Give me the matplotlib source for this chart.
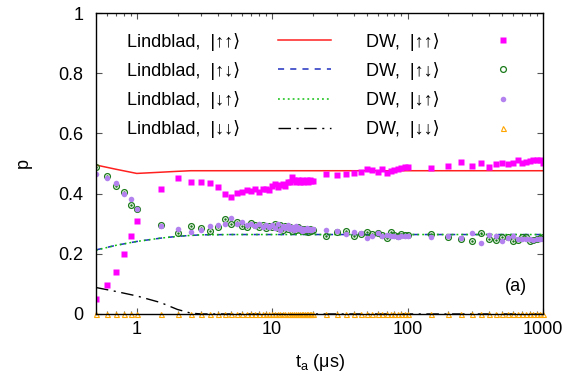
import matplotlib
matplotlib.use('Agg')
import matplotlib.pyplot as plt
from matplotlib.ticker import FixedLocator, FixedFormatter, LogLocator, NullFormatter

plt.rcParams['font.family'] = ['Liberation Sans', 'DejaVu Sans']
plt.rcParams['mathtext.fontset'] = 'custom'
plt.rcParams['mathtext.rm'] = 'Liberation Sans'
plt.rcParams['mathtext.it'] = 'Liberation Sans:italic'

# Lindblad curves
t_lb = [0.5, 0.7, 1.0, 1.5, 2.0, 2.5, 3.0, 5.0, 10, 100, 1000]
lb_uu = [0.495, 0.481, 0.467, 0.471, 0.474, 0.476, 0.476, 0.476, 0.476, 0.476, 0.476]
lb_ud = [0.213, 0.228, 0.241, 0.252, 0.258, 0.261, 0.263, 0.264, 0.264, 0.264, 0.264]
lb_du = [0.212, 0.228, 0.241, 0.252, 0.258, 0.261, 0.263, 0.264, 0.264, 0.264, 0.264]
lb_dd = [0.088, 0.075, 0.060, 0.038, 0.015, 0.003, 0.0, 0.0, 0.0, 0.0, 0.0]

# DW simulation points
t_dw = [0.5, 0.6, 0.7, 0.8, 0.9,
        1.0, 1.5, 2.0, 2.5, 3.0, 3.5, 4.0, 4.5, 5.0, 5.5, 6.0, 6.5, 7.0, 7.5,
        8.0, 8.5, 9.0, 9.5, 10.0, 10.5, 11.0, 11.5, 12.0, 12.5, 13.0, 13.5,
        14.0, 14.5, 15.0, 15.5, 16.0, 16.5, 17.0, 17.5, 18.0, 18.5, 19.0, 19.5, 20.0,
        25, 30, 35, 40, 45, 50, 55, 60, 65, 70, 75, 80, 85, 90, 95, 100,
        150, 200, 250, 300, 350, 400, 450, 500, 550, 600, 650, 700, 750, 800,
        850, 900, 950, 1000]
dw_uu = [0.050, 0.097, 0.141, 0.199, 0.259,
         0.310, 0.415, 0.453, 0.440, 0.440, 0.436, 0.423, 0.398, 0.390, 0.403,
         0.406, 0.412, 0.410, 0.415, 0.404, 0.414, 0.416, 0.411, 0.425, 0.432,
         0.421, 0.428, 0.433, 0.425, 0.437, 0.440, 0.454, 0.445, 0.437, 0.446,
         0.440, 0.445, 0.438, 0.443, 0.446, 0.440, 0.444, 0.441, 0.443,
         0.465, 0.462, 0.465, 0.468, 0.473, 0.482, 0.480, 0.471, 0.482, 0.470,
         0.474, 0.478, 0.482, 0.485, 0.487, 0.487,
         0.486, 0.492, 0.506, 0.493, 0.503, 0.489, 0.497, 0.503, 0.499, 0.503,
         0.512, 0.503, 0.505, 0.509, 0.510, 0.512, 0.511, 0.501]
dw_ud = [0.489, 0.460, 0.426, 0.404, 0.362,
         0.348, 0.297, 0.268, 0.291, 0.285, 0.277, 0.288, 0.315, 0.299, 0.307,
         0.292, 0.290, 0.303, 0.295, 0.288, 0.297, 0.285, 0.293, 0.290, 0.300,
         0.285, 0.295, 0.280, 0.291, 0.284, 0.289, 0.276, 0.286, 0.280, 0.288,
         0.278, 0.283, 0.275, 0.284, 0.279, 0.272, 0.281, 0.276, 0.279,
         0.260, 0.272, 0.277, 0.259, 0.266, 0.274, 0.265, 0.268, 0.262, 0.253,
         0.271, 0.262, 0.260, 0.266, 0.261, 0.262,
         0.266, 0.257, 0.248, 0.244, 0.268, 0.249, 0.246, 0.257, 0.255, 0.244,
         0.246, 0.255, 0.257, 0.243, 0.246, 0.248, 0.251, 0.255]
dw_du = [0.465, 0.451, 0.436, 0.400, 0.382,
         0.348, 0.291, 0.282, 0.273, 0.279, 0.292, 0.295, 0.300, 0.318, 0.300,
         0.305, 0.296, 0.300, 0.292, 0.298, 0.290, 0.295, 0.288, 0.297, 0.285,
         0.300, 0.280, 0.292, 0.286, 0.295, 0.282, 0.288, 0.279, 0.291, 0.283,
         0.286, 0.276, 0.284, 0.280, 0.285, 0.278, 0.282, 0.279, 0.281,
         0.279, 0.275, 0.265, 0.274, 0.268, 0.253, 0.259, 0.268, 0.259, 0.262,
         0.258, 0.260, 0.257, 0.259, 0.258, 0.259,
         0.255, 0.259, 0.251, 0.268, 0.235, 0.261, 0.258, 0.244, 0.251, 0.259,
         0.248, 0.248, 0.248, 0.248, 0.246, 0.248, 0.249, 0.250]
dw_dd = [0.0, 0.0, 0.0, 0.0, 0.0, 0.0, 0.0, 0.0, 0.0, 0.0, 0.0, 0.0, 0.0,
         0.0, 0.0, 0.0, 0.0, 0.0, 0.0, 0.0, 0.0, 0.0, 0.0, 0.0, 0.0, 0.0,
         0.0, 0.0, 0.0, 0.0, 0.0, 0.0, 0.0, 0.0, 0.0, 0.0, 0.0, 0.0, 0.0,
         0.0, 0.0, 0.0, 0.0, 0.0, 0.0, 0.0, 0.0, 0.0, 0.0, 0.0, 0.0, 0.0,
         0.0, 0.0, 0.0, 0.0, 0.0, 0.0, 0.0, 0.0, 0.0, 0.0, 0.0, 0.0, 0.0,
         0.0, 0.0, 0.0, 0.0, 0.0, 0.0, 0.0, 0.0, 0.0, 0.0, 0.0, 0.0, 0.0]

kets = ['|↑↑⟩', '|↑↓⟩', '|↓↑⟩', '|↓↓⟩']
x_ticks = [1, 10, 100, 1000]
x_ticklabels = ['1', '10', '100', '1000']
y_ticks = [0, 0.2, 0.4, 0.6, 0.8, 1.0]
y_ticklabels = ['0', '0.2', '0.4', '0.6', '0.8', '1']

fig = plt.figure(figsize=(5.85, 3.75), dpi=100)
ax = fig.add_axes([96 / 585, 61 / 375, 447 / 585, 301 / 375])

l1, = ax.plot(t_lb, lb_uu, color='#ff2020', lw=1.1)
l2, = ax.plot(t_lb, lb_ud, color='#2030c0', lw=1.1, dashes=(4, 4))
l3, = ax.plot(t_lb, lb_du, color='#10c010', lw=1.1, dashes=(1.2, 2))
l4, = ax.plot(t_lb, lb_dd, color='black', lw=1.0, dashes=(9, 4, 1.5, 4))

m1, = ax.plot(t_dw, dw_uu, 's', color='#ff00ff', ms=4.3, mec='none')
m2, = ax.plot(t_dw, dw_ud, 'o', mfc='none', mec='#1a7a1a', ms=4.2, mew=0.9)
ax.plot(t_dw, dw_ud, '.', color='#1a7a1a', ms=1.6)
m3, = ax.plot(t_dw, dw_du, 'o', color='#b482ee', ms=4.0, mec='none')
m4, = ax.plot(t_dw, dw_dd, '^', mfc='none', mec='#ffa500', ms=3.6, mew=0.8,
              clip_on=False)

ax.set_xscale('log')
ax.set_xlim(0.5, 1000)
ax.set_ylim(0, 1)
ax.xaxis.set_major_locator(FixedLocator(x_ticks))
ax.xaxis.set_major_formatter(FixedFormatter(x_ticklabels))
ax.xaxis.set_minor_locator(LogLocator(subs=[2, 3, 4, 5, 6, 7, 8, 9]))
ax.xaxis.set_minor_formatter(NullFormatter())
ax.set_yticks(y_ticks)
ax.set_yticklabels(y_ticklabels)
ax.tick_params(which='both', direction='in', top=True, right=True,
               labelsize=13, width=0.8, color='#555555')
ax.tick_params(which='major', length=4.5)
ax.tick_params(which='minor', length=2.5)
ax.tick_params(axis='x', pad=5)
ax.tick_params(axis='y', pad=9)
for s in ax.spines.values():
    s.set_linewidth(1.0)

ax.set_xlabel(r'$\mathrm{t_a}$ (μs)', fontsize=13, labelpad=10)
ax.set_ylabel('p', fontsize=13, labelpad=19)
ax.text(0.965, 0.09, '(a)', transform=ax.transAxes, fontsize=13,
        ha='right', va='center')

leg1 = ax.legend([l1, l2, l3, l4], ['Lindblad,  ' + k for k in kets],
                 loc='upper left', bbox_to_anchor=(0.07, 0.935),
                 frameon=False, markerfirst=False, fontsize=13,
                 handlelength=2.9, handletextpad=2.1, labelspacing=0.62,
                 borderpad=0, borderaxespad=0)
ax.add_artist(leg1)
ax.legend([m1, m2, m3, m4], ['DW,  ' + k for k in kets],
          loc='upper left', bbox_to_anchor=(0.603, 0.935),
          frameon=False, markerfirst=False, fontsize=13,
          handlelength=2.9, handletextpad=2.1, labelspacing=0.62,
          borderpad=0, borderaxespad=0, numpoints=1)

fig.savefig('out.png', dpi=100)
